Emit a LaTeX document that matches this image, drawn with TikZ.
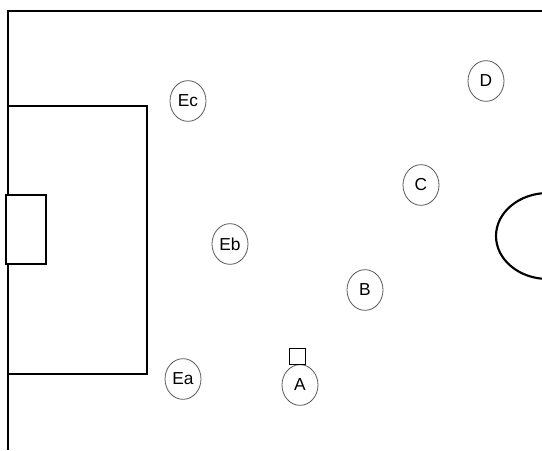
\documentclass[tikz,border=0pt]{standalone}
\usepackage{fontspec}
\setmainfont{Liberation Sans}
\usetikzlibrary{shapes.geometric}

\begin{document}
\begin{tikzpicture}[x=0.75pt,y=-0.75pt]
\tikzset{
  pitchline/.style={draw=black,line width=0.8pt,line join=miter},
  player/.style={ellipse,draw=black!65,line width=0.6pt,minimum width=27pt,minimum height=30.5pt,inner sep=0pt,font=\fontsize{13}{14}\selectfont},
  ballmark/.style={rectangle,draw=black,line width=0.7pt,minimum size=12pt,inner sep=0pt}
}
\useasboundingbox (0,0) rectangle (542,450);
\clip (0,0) rectangle (542,450);
% pitch
\draw[pitchline] (8,450) -- (8,11) -- (545,11);
\draw[pitchline] (8,106) rectangle (147,374);
\draw[pitchline,fill=white] (6,195) rectangle (46,264);
\draw[draw=black,line width=1.6pt] (548,236) ellipse [x radius=52,y radius=43];
% players
\node[player] (p_Ec) at (188,101) {Ec};
\node[player] (p_Eb) at (230,244) {Eb};
\node[player] (p_Ea) at (183,379) {Ea};
\node[player] (p_D) at (486,81) {D};
\node[player] (p_C) at (421,185) {C};
\node[player] (p_B) at (365,290) {B};
\node[player] (p_A) at (300,385) {A};
\node[ballmark] (ball) at (297,356) {};
\end{tikzpicture}
\end{document}
